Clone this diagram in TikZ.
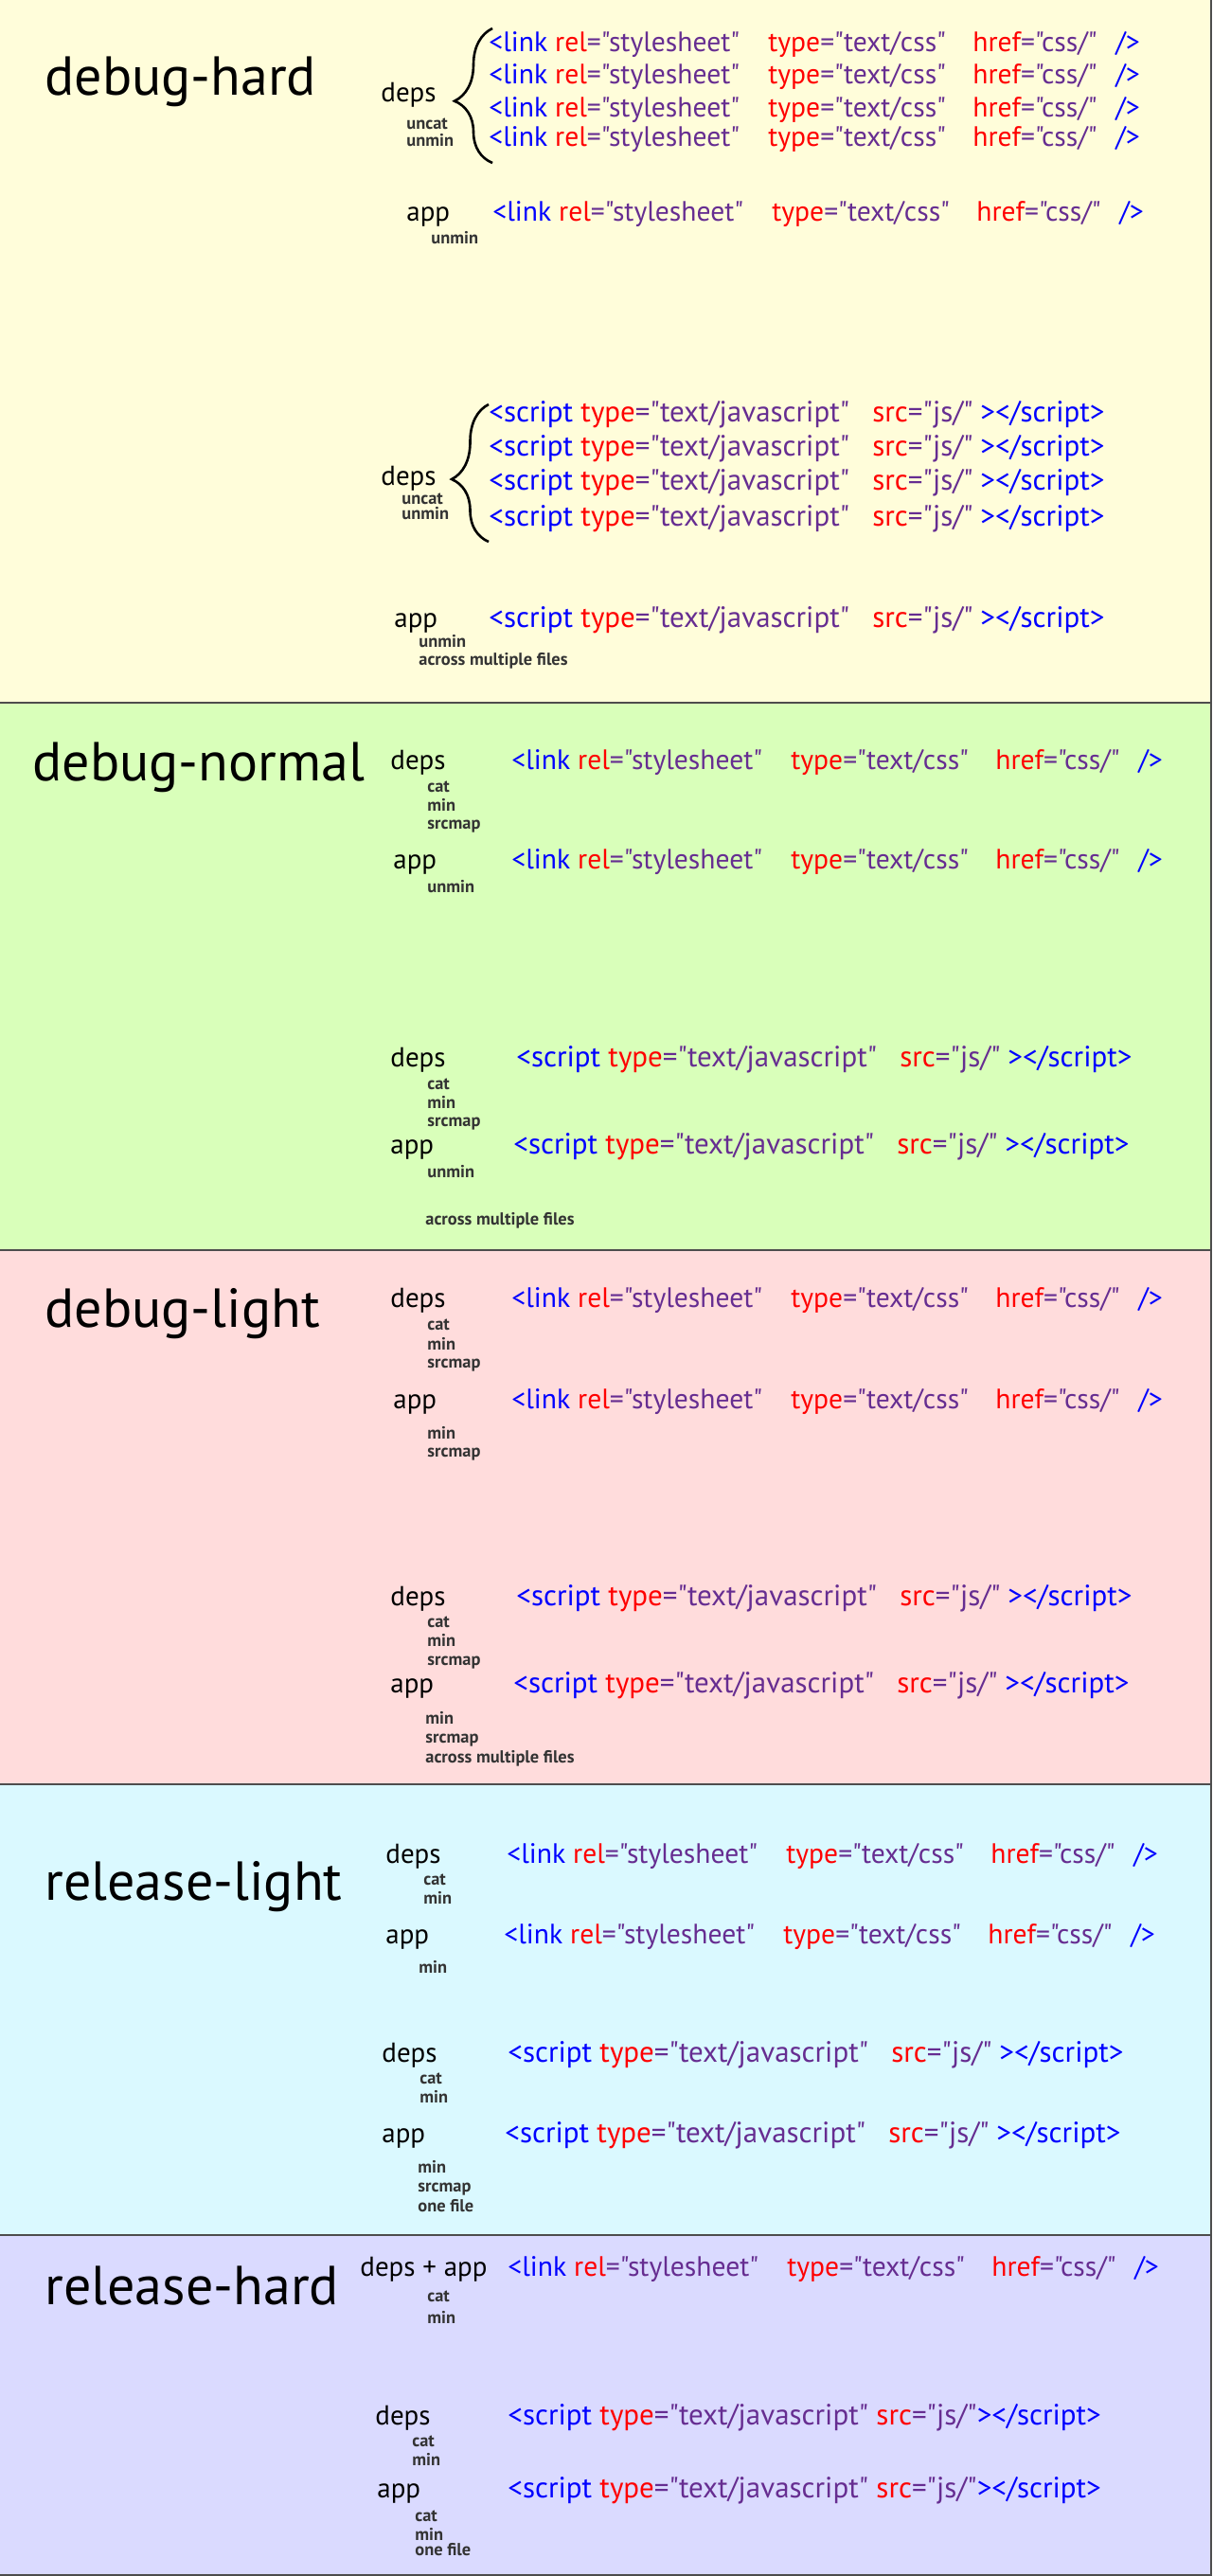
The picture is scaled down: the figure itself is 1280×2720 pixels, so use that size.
\documentclass[tikz,border=0pt]{standalone}
\usepackage{fontspec}
\setmainfont{PT Sans}
\newfontfamily\codefont{PT Sans}
\usetikzlibrary{decorations.pathreplacing}

\definecolor{hardbg}{HTML}{FFFDDA}
\definecolor{normalbg}{HTML}{D9FFBA}
\definecolor{lightbg}{HTML}{FFDCDC}
\definecolor{rlightbg}{HTML}{DAF9FF}
\definecolor{rhardbg}{HTML}{DADAFF}
\definecolor{rulecol}{HTML}{4D4D4D}
\definecolor{tagcol}{HTML}{0000FF}
\definecolor{attrcol}{HTML}{FF0000}
\definecolor{valcol}{HTML}{662D91}
\definecolor{notecol}{HTML}{333333}

% one html line, cut in columns
\newcommand\cssline{\makebox[147.5pt][l]{\color{tagcol}<link \color{attrcol}rel\color{valcol}="stylesheet"}%
\makebox[108pt][l]{\color{attrcol}type\color{valcol}="text/css"}%
\makebox[75.5pt][l]{\color{attrcol}href\color{valcol}="css/"}\color{tagcol}/>}
\newcommand\jsline{\makebox[202.5pt][l]{\color{tagcol}<script \color{attrcol}type\color{valcol}="text/javascript"}%
\makebox[57pt][l]{\color{attrcol}src\color{valcol}="js/"}\color{tagcol}></script>}
\newcommand\jslinetight{\color{tagcol}<script \color{attrcol}type\color{valcol}="text/javascript" \color{attrcol}src\color{valcol}="js/"\color{tagcol}></script>}

\begin{document}
\begin{tikzpicture}[x=0.5pt, y=-0.5pt]
\tikzstyle{title}=[anchor=base west, inner sep=0pt, font=\fontsize{29}{33}\selectfont]
\tikzstyle{role}=[anchor=base west, inner sep=0pt, font=\fontsize{14.5}{17}\selectfont]
\tikzstyle{code}=[anchor=base west, inner sep=0pt, font=\codefont\fontsize{14.8}{17}\selectfont]
\tikzstyle{jscode}=[code, font=\codefont\fontsize{15.5}{17}\selectfont]
\tikzstyle{note}=[anchor=base west, inner sep=0pt, text=notecol, font=\bfseries\fontsize{9.2}{11}\selectfont]
\tikzstyle{rule}=[draw=rulecol, line width=1pt]
\tikzstyle{curly}=[decorate, decoration={brace, amplitude=20pt, aspect=0.46}, line width=1.3pt]
\useasboundingbox (0,0) rectangle (1280,2720);
% bands
\fill[hardbg] (0,0) rectangle (1280,742);
\fill[normalbg] (0,742) rectangle (1280,1320);
\fill[lightbg] (0,1320) rectangle (1280,1884);
\fill[rlightbg] (0,1884) rectangle (1280,2360);
\fill[rhardbg] (0,2360) rectangle (1280,2720);
\foreach \y in {742,1320,1884,2360,2719} \draw[rule] (0,\y) -- (1280,\y);
\draw[rule] (1279,0) -- (1279,2720);

% debug-hard
\node[title] (hard) at (47,100) {debug-hard};
\draw[curly] (520,172) -- (520,30);
\foreach \y [count=\i] in {54,88,123,154} \node[code] (hardcss\i) at (516,\y) {\cssline};
\node[role] (hardcssdeps) at (402,107) {deps};
\foreach \w/\y [count=\i] in {uncat/136,unmin/154} \node[note] (hardcssdepsnote\i) at (429,\y) {\w};
\node[role] (hardcssapp) at (429,233) {app};
\node[note] (hardcssappnote) at (455,257) {unmin};
\node[code] (hardcssapprow) at (520,233) {\cssline};
\draw[curly, decoration={aspect=0.455, amplitude=19.5pt}] (516,572) -- (516,427);
\foreach \y [count=\i] in {445,481,517,555} \node[jscode] (hardjs\i) at (516,\y) {\jsline};
\node[role] (hardjsdeps) at (402,512) {deps};
\foreach \w/\y [count=\i] in {uncat/532,unmin/548} \node[note] (hardjsdepsnote\i) at (424,\y) {\w};
\node[role] (hardjsapp) at (416,662) {app};
\foreach \w/\y [count=\i] in {unmin/683,across multiple files/702} \node[note] (hardjsappnote\i) at (442,\y) {\w};
\node[jscode] (hardjsapprow) at (516,662) {\jsline};

% debug-normal
\node[title] (normal) at (34,824) {debug-normal};
\node[role] (normalcssdeps) at (412,812) {deps};
\foreach \w/\y [count=\i] in {cat/836,min/856,srcmap/875} \node[note] (normalcssdepsnote\i) at (451,\y) {\w};
\node[code] (normalcssdepsrow) at (540,812) {\cssline};
\node[role] (normalcssapp) at (415,917) {app};
\node[note] (normalcssappnote) at (451,942) {unmin};
\node[code] (normalcssapprow) at (540,917) {\cssline};
\node[role] (normaljsdeps) at (412,1126) {deps};
\foreach \w/\y [count=\i] in {cat/1150,min/1170,srcmap/1189} \node[note] (normaljsdepsnote\i) at (451,\y) {\w};
\node[jscode] (normaljsdepsrow) at (545,1126) {\jsline};
\node[role] (normaljsapp) at (412,1218) {app};
\node[note] (normaljsappnote1) at (451,1243) {unmin};
\node[note] (normaljsappnote2) at (449,1293) {across multiple files};
\node[jscode] (normaljsapprow) at (542,1218) {\jsline};

% debug-light
\node[title] (light) at (47,1401) {debug-light};
\node[role] (lightcssdeps) at (412,1380) {deps};
\foreach \w/\y [count=\i] in {cat/1404,min/1425,srcmap/1444} \node[note] (lightcssdepsnote\i) at (451,\y) {\w};
\node[code] (lightcssdepsrow) at (540,1380) {\cssline};
\node[role] (lightcssapp) at (415,1487) {app};
\foreach \w/\y [count=\i] in {min/1519,srcmap/1538} \node[note] (lightcssappnote\i) at (451,\y) {\w};
\node[code] (lightcssapprow) at (540,1487) {\cssline};
\node[role] (lightjsdeps) at (412,1695) {deps};
\foreach \w/\y [count=\i] in {cat/1718,min/1738,srcmap/1758} \node[note] (lightjsdepsnote\i) at (451,\y) {\w};
\node[jscode] (lightjsdepsrow) at (545,1695) {\jsline};
\node[role] (lightjsapp) at (412,1787) {app};
\foreach \w/\y [count=\i] in {min/1820,srcmap/1840,across multiple files/1861} \node[note] (lightjsappnote\i) at (449,\y) {\w};
\node[jscode] (lightjsapprow) at (542,1787) {\jsline};

% release-light
\node[title] (rlight) at (47,2006) {release-light};
\node[role] (rlightcssdeps) at (407,1967) {deps};
\foreach \w/\y [count=\i] in {cat/1990,min/2010} \node[note] (rlightcssdepsnote\i) at (447,\y) {\w};
\node[code] (rlightcssdepsrow) at (535,1967) {\cssline};
\node[role] (rlightcssapp) at (407,2052) {app};
\node[note] (rlightcssappnote) at (442,2083) {min};
\node[code] (rlightcssapprow) at (532,2052) {\cssline};
\node[role] (rlightjsdeps) at (403,2177) {deps};
\foreach \w/\y [count=\i] in {cat/2200,min/2220} \node[note] (rlightjsdepsnote\i) at (443,\y) {\w};
\node[jscode] (rlightjsdepsrow) at (536,2177) {\jsline};
\node[role] (rlightjsapp) at (403,2262) {app};
\foreach \w/\y [count=\i] in {min/2294,srcmap/2314,one file/2335} \node[note] (rlightjsappnote\i) at (441,\y) {\w};
\node[jscode] (rlightjsapprow) at (533,2262) {\jsline};

% release-hard
\node[title] (rhard) at (47,2433) {release-hard};
\node[role] (rhardcss) at (380,2403) {deps + app};
\foreach \w/\y [count=\i] in {cat/2430,min/2453} \node[note] (rhardcssnote\i) at (451,\y) {\w};
\node[code] (rhardcssrow) at (536,2403) {\cssline};
\node[role] (rhardjsdeps) at (396,2560) {deps};
\foreach \w/\y [count=\i] in {cat/2583,min/2603} \node[note] (rhardjsdepsnote\i) at (435,\y) {\w};
\node[jscode] (rhardjsdepsrow) at (536,2560) {\jslinetight};
\node[role] (rhardjsapp) at (398,2637) {app};
\foreach \w/\y [count=\i] in {cat/2662,min/2682,one file/2698} \node[note] (rhardjsappnote\i) at (438,\y) {\w};
\node[jscode] (rhardjsapprow) at (536,2637) {\jslinetight};
\end{tikzpicture}
\end{document}
